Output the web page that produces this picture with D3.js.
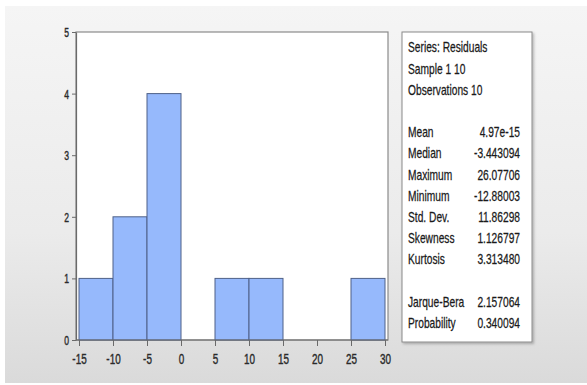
<!DOCTYPE html>
<html>
<head>
<meta charset="utf-8">
<script src="https://cdn.jsdelivr.net/npm/d3@7"></script>
<style>
  html, body { margin: 0; padding: 0; background: #ffffff; }
  svg { display: block; }
  text { font-family: "Liberation Sans", Arial, sans-serif; }
</style>
</head>
<body>
<svg id="chart" width="587" height="385"></svg>
<script>
// Histogram of residuals: bin edges and counts
const binStarts = [-15, -10, -5, 0, 5, 10, 15, 20, 25];
const binWidth = 5;
const counts = [1, 2, 4, 0, 1, 1, 0, 0, 1];
const xTicks = [-15, -10, -5, 0, 5, 10, 15, 20, 25, 30];
const yTicks = [0, 1, 2, 3, 4, 5];

// Descriptive statistics panel
const statHeader = ["Series: Residuals", "Sample 1 10", "Observations 10"];
const statNames = ["Mean", "Median", "Maximum", "Minimum", "Std. Dev.", "Skewness", "Kurtosis"];
const statValues = ["4.97e-15", "-3.443094", "26.07706", "-12.88003", "11.86298", "1.126797", "3.313480"];
const testNames = ["Jarque-Bera", "Probability"];
const testValues = ["2.157064", "0.340094"];

// Narrow text is drawn by squeezing a regular sans face horizontally
const NARROW_BOX = 0.73;
const NARROW_AXIS = 0.66;

const svg = d3.select("#chart");

// Window background with soft vertical gradient
const defs = svg.append("defs");
const grad = defs.append("linearGradient").attr("id", "bg").attr("x1", 0).attr("y1", 0).attr("x2", 0).attr("y2", 1);
grad.append("stop").attr("offset", "0%").attr("stop-color", "#f5f5f5");
grad.append("stop").attr("offset", "60%").attr("stop-color", "#ebebeb");
grad.append("stop").attr("offset", "100%").attr("stop-color", "#dadada");
const shadow = defs.append("filter").attr("id", "shadow").attr("x", "-5%").attr("y", "-5%").attr("width", "115%").attr("height", "115%");
shadow.append("feDropShadow").attr("dx", 1.5).attr("dy", 1.5).attr("stdDeviation", 1.2).attr("flood-color", "#000").attr("flood-opacity", 0.25);

svg.append("rect").attr("x", 5).attr("y", 6).attr("width", 582).attr("height", 377).attr("fill", "url(#bg)");

// Plot frame
const frame = { left: 76, top: 32, right: 388, bottom: 340 };
const x = d3.scaleLinear().domain([-15, 30]).range([79, 385]);
const y = d3.scaleLinear().domain([0, 5]).range([frame.bottom, frame.top]);

svg.append("rect")
  .attr("x", frame.left).attr("y", frame.top)
  .attr("width", frame.right - frame.left).attr("height", frame.bottom - frame.top)
  .attr("fill", "#ffffff").attr("stroke", "#8a8a8a").attr("stroke-width", 1.2);

// Bars
svg.append("g").selectAll("rect")
  .data(binStarts.map((s, i) => ({ s, c: counts[i] })).filter(d => d.c > 0))
  .join("rect")
  .attr("x", d => x(d.s))
  .attr("y", d => y(d.c))
  .attr("width", d => x(d.s + binWidth) - x(d.s))
  .attr("height", d => y(0) - y(d.c))
  .attr("fill", "#96b9fc")
  .attr("stroke", "#4f6188")
  .attr("stroke-width", 1);

// Axes
const xAxis = svg.append("g").attr("transform", `translate(0,${frame.bottom})`)
  .call(d3.axisBottom(x).tickValues(xTicks).tickFormat(d => String(d)).tickSize(6).tickSizeOuter(0));
const yAxis = svg.append("g").attr("transform", `translate(${frame.left},0)`)
  .call(d3.axisLeft(y).tickValues(yTicks).tickFormat(d => String(d)).tickSize(4).tickSizeOuter(0));
[xAxis, yAxis].forEach(a => {
  a.select(".domain").attr("stroke", "#6a6a6a").attr("stroke-width", 1.2);
  a.selectAll(".tick line").attr("stroke", "#6a6a6a");
});
xAxis.select(".domain").attr("d", `M${frame.left},0H${frame.right}`);
// Narrow tick labels
xAxis.selectAll(".tick text")
  .attr("y", null).attr("dy", null)
  .attr("transform", `translate(0,24) scale(${NARROW_AXIS},1)`)
  .attr("fill", "#2a2a2a").attr("stroke", "#2a2a2a").attr("stroke-width", 0.4)
  .attr("font-size", 15);
yAxis.selectAll(".tick text")
  .attr("x", null).attr("dy", null)
  .attr("transform", `translate(-7,4.5) scale(${NARROW_AXIS},1)`)
  .attr("fill", "#2a2a2a").attr("stroke", "#2a2a2a").attr("stroke-width", 0.4)
  .attr("font-size", 13);

// Statistics box
const box = { x: 402, y: 32, w: 130, h: 310 };
svg.append("rect")
  .attr("x", box.x).attr("y", box.y).attr("width", box.w).attr("height", box.h)
  .attr("fill", "#ffffff").attr("stroke", "#8a8a8a").attr("stroke-width", 1)
  .attr("filter", "url(#shadow)");

const lineH = 21.2;
const top0 = 52.3;
const textLeft = 408, textRight = 520;
const g = svg.append("g").attr("font-size", 14).attr("fill", "#1a1a1a")
  .attr("stroke", "#1a1a1a").attr("stroke-width", 0.25);
function narrowText(tx, ty, t, anchor) {
  g.append("text")
    .attr("transform", `translate(${tx},${ty}) scale(${NARROW_BOX},1)`)
    .attr("text-anchor", anchor || "start")
    .text(t);
}
statHeader.forEach((t, i) => narrowText(textLeft, top0 + i * lineH, t));
statNames.forEach((t, i) => {
  const yy = top0 + (i + 4) * lineH;
  narrowText(textLeft, yy, t);
  narrowText(textRight, yy, statValues[i], "end");
});
testNames.forEach((t, i) => {
  const yy = top0 + (i + 12) * lineH;
  narrowText(textLeft, yy, t);
  narrowText(textRight, yy, testValues[i], "end");
});
</script>
</body>
</html>
